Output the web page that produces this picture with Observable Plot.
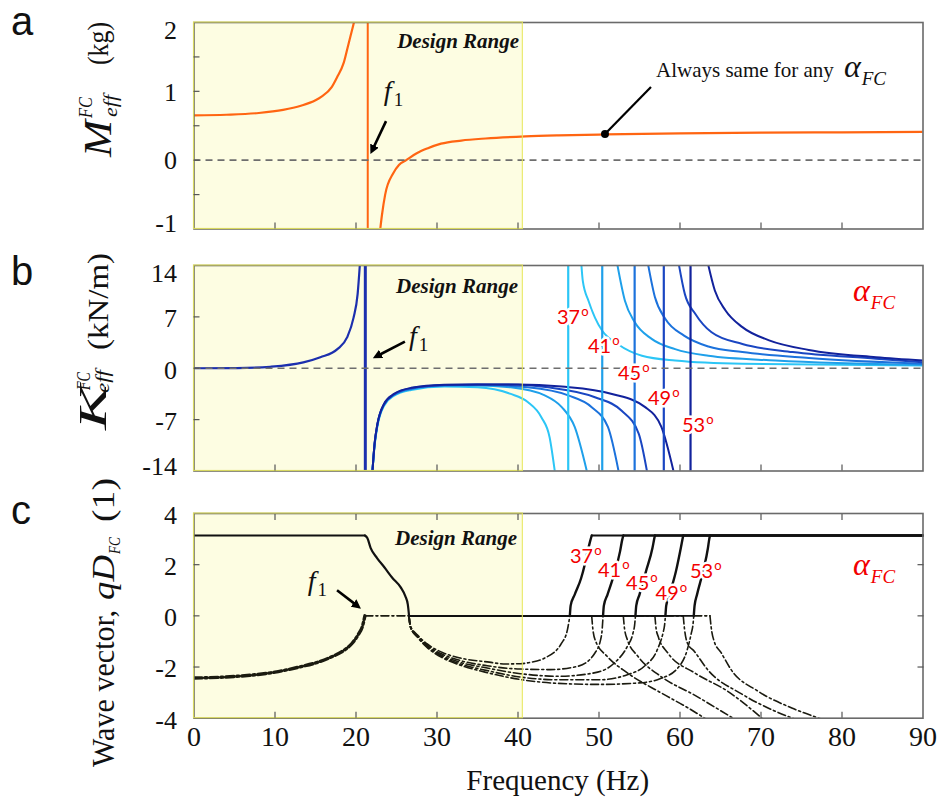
<!DOCTYPE html>
<html><head><meta charset="utf-8">
<script src="https://cdn.jsdelivr.net/npm/d3@7"></script>
<script src="https://cdn.jsdelivr.net/npm/@observablehq/plot@0.6"></script>
<style>
body{margin:0;background:#fff;}
#wrap{position:relative;width:944px;height:803px;overflow:hidden;background:#fff;}
</style></head><body><div id="wrap"></div>
<script>
// ---------- shared ----------
const freqTicks = [0,10,20,30,40,50,60,70,80,90];
const innerFreqTicks = [10,20,30,40,50,60,70,80];
const designRange = [0, 40.6];
const anglesDeg = [37,41,45,49,53];
const angleColors = ["#2cc6f6","#1fa0ea","#1c72dc","#1a46c2","#12229c"];

// ---------- panel a : effective mass (kg) ----------
const massTickLabels = [2,1,0,-1];
const massTicks = [1.5,1,0.5,0,-0.5];
const massF1 = 21.45;
const massBelow = [[0,0.65],[4,0.66],[8,0.685],[11,0.73],[13.2,0.79],[15,0.87],[15.7,0.92],[17,1.06],[17.65,1.2],[18.5,1.42],[19.1,1.7],[19.6,1.93],[19.95,2.1]];
const massAbove = [[22.9,-1.1],[23.2,-0.8],[23.6,-0.5],[24.6,-0.19],[25.3,-0.07],[26.2,0],[27.5,0.1],[28.8,0.17],[30.5,0.24],[33,0.285],[36,0.315],[40.9,0.345],[45,0.36],[50.8,0.374],[60,0.39],[70,0.4],[80,0.405],[90,0.41]];
const massMarker = [50.8, 0.374];

// ---------- panel b : effective stiffness (kN/m) ----------
const stiffTickLabels = [14,7,0,-7,-14];
const stiffTicks = [7,0,-7];
const stiffF1 = 21.15;
const stiffLow = [[0,0],[5.3,0.02],[9.4,0.2],[13.5,0.8],[15.6,1.5],[17.7,2.6],[18.9,4.2],[19.7,6.9],[20.2,10.1],[20.5,14.5]];
const stiffNeg37 = [[22.0,-14.5],[22.3,-10.5],[22.64,-7.9],[23.46,-5.1],[24.7,-3.75],[26.8,-2.95],[30.9,-2.5],[35,-2.6],[39.1,-3.5],[41.2,-4.6],[42.9,-6.7],[43.9,-9.4],[44.6,-14.5]];
const stiffNeg41 = [[22.0,-14.5],[22.3,-10.4],[22.64,-7.8],[23.46,-5.0],[24.7,-3.65],[26.8,-2.85],[30.9,-2.4],[35,-2.35],[39.1,-2.6],[43.3,-3.7],[45.4,-5.3],[47.0,-8.0],[48.6,-14.5]];
const stiffNeg45 = [[22.0,-14.5],[22.3,-10.3],[22.64,-7.7],[23.46,-4.95],[24.7,-3.6],[26.8,-2.78],[30.9,-2.33],[35,-2.25],[41.2,-2.6],[46.2,-3.7],[49.1,-5.3],[51.1,-8.0],[52.5,-14.5]];
const stiffNeg49 = [[22.0,-14.5],[22.3,-10.2],[22.64,-7.65],[23.46,-4.9],[24.7,-3.55],[26.8,-2.72],[30.9,-2.28],[35,-2.2],[38.5,-2.22],[43.7,-2.6],[49.5,-3.95],[52.8,-5.8],[54.9,-8.9],[56.0,-14.5]];
const stiffNeg53 = [[22.0,-14.5],[22.3,-10.2],[22.64,-7.6],[23.46,-4.85],[24.7,-3.5],[26.8,-2.67],[30.9,-2.26],[35,-2.2],[40,-2.2],[45.4,-2.5],[51.6,-3.5],[55.7,-5.3],[57.7,-8.0],[59.3,-14.5]];
const stiffPos37 = [[47.8,14.5],[48.0,11.9],[48.7,9.2],[49.5,6.9],[50.4,5.1],[52.3,3.3],[55.3,1.7],[59.4,1.05],[67.7,0.6],[90,0.37]];
const stiffPos41 = [[52.2,14.5],[53.2,9.2],[54.4,6.3],[56.5,4.0],[59.4,2.6],[63.5,1.7],[71.8,1.05],[90,0.46]];
const stiffPos45 = [[56.0,14.5],[56.9,9.7],[58.2,6.7],[60.5,4.45],[63.5,2.96],[67.7,2.2],[75.9,1.4],[90,0.6]];
const stiffPos49 = [[59.8,14.5],[60.6,10.1],[61.9,7.4],[63.9,4.9],[67.7,3.3],[73.9,2.2],[84.2,1.3],[90,0.8]];
const stiffPos53 = [[63.4,14.5],[64.3,10.6],[65.6,7.9],[67.7,5.6],[71.0,3.8],[75.9,2.5],[84.2,1.5],[90,1.05]];
const stiffPoles = [46.2,50.4,54.4,58.0,61.3];

// ---------- panel c : wave vector qD (1) ----------
const waveTickLabels = [4,2,0,-2,-4];
const waveTicks = [2,0,-2];
const wavePi = 3.14;
const waveF1 = 21.1;
const waveCutOn = 26.55;
const waveReDrop = [[21.1,3.14],[21.4,3.04],[21.8,2.66],[22.6,2.26],[23.5,1.9],[24.5,1.48],[25.5,1.12],[26.1,0.76],[26.4,0.44],[26.55,0]];
const waveImLow = [[0,-2.43],[5,-2.37],[10,-2.2],[13,-2.0],[15.6,-1.78],[17,-1.6],[18.5,-1.35],[19.5,-1.08],[20.3,-0.72],[20.8,-0.4],[21.1,0]];
const waveBandStart = [46.4,50.5,54.5,58.2,61.7];
const waveBandEnd = [49.1,53.0,56.9,60.4,63.7];
const waveRePass37 = [[46.4,0],[46.5,0.4],[47.0,0.83],[47.8,1.48],[48.2,1.95],[48.5,2.39],[48.9,2.91],[49.1,3.14]];
const waveRePass41 = [[50.5,0],[50.6,0.4],[51.05,0.83],[51.85,1.61],[52.6,2.52],[52.85,2.95],[53.0,3.14]];
const waveRePass45 = [[54.5,0],[54.6,0.4],[55.0,0.83],[55.8,1.74],[56.6,2.65],[56.8,2.98],[56.9,3.14]];
const waveRePass49 = [[58.2,0],[58.3,0.4],[58.7,0.83],[59.5,1.74],[60.1,2.65],[60.3,2.98],[60.4,3.14]];
const waveRePass53 = [[61.7,0],[61.8,0.4],[62.1,0.83],[62.85,1.74],[63.45,2.65],[63.6,2.98],[63.7,3.14]];
const waveImStop37 = [[26.55,0],[26.7,-0.38],[27.6,-0.75],[28.8,-1.1],[30.8,-1.45],[32.9,-1.65],[36.2,-1.8],[38.5,-1.88],[40.3,-1.87],[41.5,-1.82],[43.3,-1.65],[45.4,-1.06],[46.1,-0.55],[46.4,0]];
const waveImStop41 = [[26.55,0],[26.7,-0.4],[27.6,-0.78],[28.8,-1.15],[30.8,-1.52],[32.9,-1.75],[36.2,-1.95],[40.3,-2.08],[44,-2.1],[47.4,-1.97],[49.5,-1.45],[50.2,-0.93],[50.4,-0.5],[50.5,0]];
const waveImStop45 = [[26.55,0],[26.7,-0.41],[27.6,-0.8],[28.8,-1.18],[30.8,-1.58],[32.9,-1.82],[36.2,-2.04],[40.3,-2.26],[45,-2.36],[49.4,-2.23],[51.9,-1.84],[53.5,-1.19],[54.2,-0.67],[54.4,-0.35],[54.5,0]];
const waveImStop49 = [[26.55,0],[26.7,-0.42],[27.6,-0.82],[28.8,-1.21],[30.8,-1.62],[32.9,-1.88],[36.2,-2.14],[40.3,-2.39],[45,-2.5],[50,-2.5],[53.5,-2.3],[55.6,-1.97],[57.2,-1.32],[57.9,-0.67],[58.1,-0.35],[58.2,0]];
const waveImStop53 = [[26.55,0],[26.7,-0.43],[27.6,-0.84],[28.8,-1.24],[30.8,-1.66],[32.9,-1.93],[36.2,-2.22],[40.3,-2.49],[45,-2.64],[50,-2.68],[55,-2.62],[57.6,-2.45],[59.7,-2.05],[60.9,-1.32],[61.4,-0.67],[61.6,-0.35],[61.7,0]];
const waveImHigh37 = [[49.1,0],[49.25,-0.54],[49.6,-1.0],[51.0,-1.58],[53.5,-2.23],[57.6,-3.0],[61.0,-3.6],[63.3,-4.05]];
const waveImHigh41 = [[53.0,0],[53.15,-0.5],[53.5,-0.93],[54.8,-1.58],[57.6,-2.36],[61.8,-3.1],[66.8,-4.05]];
const waveImHigh45 = [[56.9,0],[57.05,-0.5],[57.3,-0.8],[58.5,-1.45],[61.8,-2.23],[65.9,-2.95],[70.3,-4.05]];
const waveImHigh49 = [[60.4,0],[60.55,-0.5],[60.9,-1.05],[61.8,-1.4],[63.4,-2.1],[67.6,-3.05],[71.7,-3.72],[74.3,-4.05]];
const waveImHigh53 = [[63.7,0],[63.85,-0.45],[64.2,-0.98],[65.1,-1.45],[66.3,-2.1],[69.6,-2.94],[73.8,-3.6],[77.6,-4.05]];

// ---------- annotation anchors (data coordinates) ----------
const annDesignA = [40.2, 1.62], annDesignB = [40.06, 10.19], annDesignC = [39.94, 2.745];
const annF1A = [23.5, 0.87], annF1ArrowA = [[23.77,0.56],[22.04,0.13]];
const annF1B = [26.6, 3.1], annF1ArrowB = [[26.1,3.56],[22.55,1.53]];
const annF1C = [14.1, 0.98], annF1ArrowC = [[17.72,0.98],[20.31,0.35]];
const annAlwaysLine = [56.48, 1.056], annAlwaysText = [57.1, 1.2];
const annAlphaB = [81.42, 9.1], annAlphaC = [81.42, 1.57];
const annAnglesB = [[44.88,6.0],[48.7,2.01],[52.41,-1.67],[56.11,-5.08],[60.31,-8.76]];
const annAnglesC = [[46.48,2.04],[49.94,1.5],[53.4,0.98],[57.05,0.6],[61.3,1.45]];

// ---------- helpers ----------
const serif = "Liberation Serif, Times New Roman, DejaVu Serif, serif";
const sans = "Liberation Sans, Arial, DejaVu Sans, sans-serif";
const orange = "#ff6512";
const yellowFill = "#fdfde2";
const yellowEdge = "#e6e65a";
const frameColor = "#6a6a6a";
const tickColor = "#555";
const rowsOf = lists => lists.flatMap((pts, i) => pts.map(([f, v]) => ({a: anglesDeg[i], f, v})));
const xy = {x: d => d[0], y: d => d[1]};

function backMarks(yDom) {
  return [Plot.rect([designRange], {x1: d => d[0], x2: d => d[1], y1: () => yDom[0], y2: () => yDom[1], fill: yellowFill})];
}
function frontMarks(yDom) {
  return [
    Plot.frame({stroke: frameColor, strokeWidth: 1.6}),
    Plot.rect([designRange], {x1: d => d[0], x2: d => d[1], y1: () => yDom[0], y2: () => yDom[1], fill: "none", stroke: yellowEdge, strokeWidth: 1.2, strokeOpacity: 0.85})
  ];
}
function yLabels(vals, dy) {
  return Plot.axisY(vals, {anchor: "left", tickSize: 0, tickPadding: 17, fontSize: 26, fontFamily: serif, dy, tickFormat: d => String(d), label: null});
}
function tickAxisY(vals, anchor) {
  return Plot.axisY(vals, {anchor, tickSize: 6, dx: anchor === "left" ? 6 : -6, fill: "none", stroke: tickColor, strokeWidth: 1.2, tickFormat: () => "", label: null});
}
function tickAxisX(vals, anchor) {
  return Plot.axisX(vals, {anchor, tickSize: 6, dy: anchor === "bottom" ? -6 : 6, fill: "none", stroke: tickColor, strokeWidth: 1.2, tickFormat: () => "", label: null});
}
const common = {width: 944, marginLeft: 193.5, marginRight: 21.5, x: {domain: [0, 90]},
  style: {fontFamily: serif, fontSize: "26px", color: "#111", background: "white", overflow: "visible"}};

// ---------- panel a ----------
const domA = [-1, 2];
const plotA = Plot.plot({...common, height: 240, marginTop: 22, marginBottom: 11.5, y: {domain: domA},
  marks: [
    ...backMarks(domA),
    Plot.ruleX([massF1], {stroke: orange, strokeWidth: 2}),
    Plot.line(massBelow, {...xy, stroke: orange, strokeWidth: 2.2, curve: "monotone-x", clip: true}),
    Plot.line(massAbove, {...xy, stroke: orange, strokeWidth: 2.2, curve: "monotone-x", clip: true}),
    Plot.ruleY([0], {stroke: "#6e6e6e", strokeWidth: 1.6, strokeDasharray: "7,5"}),
    ...frontMarks(domA),
    yLabels([1, 0], 1), yLabels([2], 8), yLabels([-1], -5),
    tickAxisY(massTicks, "left"),
    tickAxisX(innerFreqTicks, "bottom")
  ]});

// ---------- panel b ----------
const domB = [-14, 14];
const plotB = Plot.plot({...common, height: 250, marginTop: 25, marginBottom: 19.5, y: {domain: domB},
  color: {domain: anglesDeg, range: angleColors},
  marks: [
    ...backMarks(domB),
    Plot.line(rowsOf([stiffNeg37, stiffNeg41, stiffNeg45, stiffNeg49, stiffNeg53]), {x: "f", y: "v", z: "a", stroke: "a", strokeWidth: 2, curve: "monotone-x", clip: true}),
    Plot.line(rowsOf([stiffPos37, stiffPos41, stiffPos45, stiffPos49, stiffPos53]), {x: "f", y: "v", z: "a", stroke: "a", strokeWidth: 2, curve: "monotone-x", clip: true}),
    Plot.ruleX(stiffPoles.map((f, i) => ({f, a: anglesDeg[i]})), {x: "f", stroke: "a", strokeWidth: 2.2}),
    Plot.line(stiffLow, {...xy, stroke: "#1c2fae", strokeWidth: 2.2, curve: "monotone-x", clip: true}),
    Plot.ruleX([stiffF1], {stroke: "#1c2fae", strokeWidth: 3}),
    Plot.ruleY([0], {stroke: "#6e6e6e", strokeWidth: 1.6, strokeDasharray: "7,5"}),
    ...frontMarks(domB),
    yLabels([7, 0, -7], 2), yLabels([14], 8), yLabels([-14], -4),
    tickAxisY(stiffTicks, "left"),
    tickAxisX(innerFreqTicks, "bottom")
  ]});

// ---------- panel c ----------
const domC = [-4, 4];
const dashDot = "8,3,2,3";
const plotC = Plot.plot({...common, height: 313, marginTop: 23, marginBottom: 85.3, y: {domain: domC},
  marks: [
    ...backMarks(domC),
    Plot.line(waveImLow, {...xy, stroke: "#1b1b10", strokeWidth: 3.4, strokeDasharray: dashDot, curve: "monotone-x", clip: true}),
    Plot.line([[waveF1, 0], [waveCutOn, 0]], {...xy, stroke: "#1b1b10", strokeWidth: 1.6, strokeDasharray: dashDot}),
    Plot.line(rowsOf([waveImStop37, waveImStop41, waveImStop45, waveImStop49, waveImStop53]), {x: "f", y: "v", z: "a", stroke: "#1b1b10", strokeWidth: 1.6, strokeDasharray: dashDot, curve: "monotone-x", clip: true}),
    Plot.line(rowsOf(waveBandStart.map((s, i) => [[s, 0], [waveBandEnd[i], 0]])), {x: "f", y: "v", z: "a", stroke: "#1b1b10", strokeWidth: 1.6, strokeDasharray: dashDot}),
    Plot.line(rowsOf([waveImHigh37, waveImHigh41, waveImHigh45, waveImHigh49, waveImHigh53]), {x: "f", y: "v", z: "a", stroke: "#1b1b10", strokeWidth: 1.6, strokeDasharray: dashDot, curve: "monotone-x", clip: true}),
    Plot.line([[0, wavePi], [waveF1, wavePi]], {...xy, stroke: "#111", strokeWidth: 1.8}),
    Plot.line(waveReDrop, {...xy, stroke: "#111", strokeWidth: 2.2, curve: "monotone-x"}),
    Plot.line(rowsOf(waveBandStart.map(s => [[waveCutOn, 0], [s, 0]])), {x: "f", y: "v", z: "a", stroke: "#111", strokeWidth: 1.8}),
    Plot.line(rowsOf([waveRePass37, waveRePass41, waveRePass45, waveRePass49, waveRePass53]), {x: "f", y: "v", z: "a", stroke: "#111", strokeWidth: 2.4, curve: "monotone-x"}),
    Plot.line(rowsOf(waveBandEnd.map(e => [[e, wavePi], [90, wavePi]])), {x: "f", y: "v", z: "a", stroke: "#111", strokeWidth: 1.8}),
    ...frontMarks(domC),
    yLabels(waveTickLabels, 2),
    tickAxisY(waveTicks, "left"), tickAxisY(waveTicks, "right"),
    tickAxisX(innerFreqTicks, "bottom"), tickAxisX(innerFreqTicks, "top"),
    Plot.axisX(freqTicks, {anchor: "bottom", tickSize: 0, tickPadding: 8, fontSize: 28, fontFamily: serif, tickFormat: d => String(d), label: null})
  ]});

// ---------- place ----------
const wrap = document.getElementById("wrap");
[[plotA, 0], [plotB, 240], [plotC, 490]].forEach(([svg, top]) => {
  svg.style.position = "absolute"; svg.style.left = "0px"; svg.style.top = top + "px";
  wrap.appendChild(svg);
});

// ---------- overlay text ----------
const ov = d3.select(wrap).append("svg").attr("width", 944).attr("height", 803)
  .style("position", "absolute").style("left", "0px").style("top", "0px").style("pointer-events", "none");
ov.append("defs").append("marker").attr("id", "ah").attr("viewBox", "0 0 10 10").attr("refX", 6).attr("refY", 5)
  .attr("markerWidth", 3.6).attr("markerHeight", 3.6).attr("orient", "auto")
  .append("path").attr("d", "M0,0L10,5L0,10z").attr("fill", "#000");

const P = (plot, top, p) => [plot.scale("x").apply(p[0]), top + plot.scale("y").apply(p[1])];

function design(plot, top, p) {
  const [x, y] = P(plot, top, p);
  ov.append("text").attr("x", x).attr("y", y).attr("text-anchor", "end").style("font-family", serif)
    .attr("font-weight", "bold").attr("font-style", "italic").attr("font-size", 21).attr("fill", "#111").text("Design Range");
}
function f1(plot, top, p, arrow) {
  const [x, y] = P(plot, top, p);
  const t = ov.append("text").attr("x", x).attr("y", y).style("font-family", serif).attr("font-size", 28).attr("fill", "#111");
  t.append("tspan").attr("font-style", "italic").text("f");
  t.append("tspan").attr("font-size", 19).attr("dy", 6).attr("dx", 2).text("1");
  const [x1, y1] = P(plot, top, arrow[0]), [x2, y2] = P(plot, top, arrow[1]);
  ov.append("line").attr("x1", x1).attr("y1", y1).attr("x2", x2).attr("y2", y2)
    .attr("stroke", "#000").attr("stroke-width", 2.6).attr("marker-end", "url(#ah)");
}
function alpha(plot, top, p, color) {
  const [x, y] = P(plot, top, p);
  const t = ov.append("text").attr("x", x).attr("y", y).style("font-family", serif).attr("fill", color).attr("font-style", "italic");
  t.append("tspan").attr("font-size", 32).text("α");
  t.append("tspan").attr("font-size", 19).attr("dy", 8).attr("dx", 1).text("FC");
}
function angles(plot, top, list) {
  list.forEach((p, i) => {
    const [x, y] = P(plot, top, p);
    const t = ov.append("text").attr("x", x).attr("y", y).style("font-family", "Lato, Liberation Sans, sans-serif")
      .attr("font-size", 20).attr("fill", "#f20000").attr("stroke", "#fff").attr("stroke-width", 5)
      .attr("paint-order", "stroke").attr("stroke-linejoin", "round");
    t.append("tspan").text(String(anglesDeg[i]));
    t.append("tspan").attr("font-size", 13).attr("dy", -8).attr("dx", 1).text("o");
  });
}

design(plotA, 0, annDesignA); design(plotB, 240, annDesignB); design(plotC, 490, annDesignC);
f1(plotA, 0, annF1A, annF1ArrowA); f1(plotB, 240, annF1B, annF1ArrowB); f1(plotC, 490, annF1C, annF1ArrowC);
alpha(plotB, 240, annAlphaB, "#f20000"); alpha(plotC, 490, annAlphaC, "#f20000");
angles(plotB, 240, annAnglesB); angles(plotC, 490, annAnglesC);

// "Always same" annotation
{
  const [dx0, dy0] = P(plotA, 0, massMarker), [lx, ly] = P(plotA, 0, annAlwaysLine), [tx, ty] = P(plotA, 0, annAlwaysText);
  ov.append("line").attr("x1", dx0).attr("y1", dy0).attr("x2", lx).attr("y2", ly).attr("stroke", "#000").attr("stroke-width", 2.2);
  ov.append("circle").attr("cx", dx0).attr("cy", dy0).attr("r", 4).attr("fill", "#000");
  const t = ov.append("text").attr("x", tx).attr("y", ty).style("font-family", serif).attr("fill", "#111");
  t.append("tspan").attr("font-size", 21).text("Always same for any");
  t.append("tspan").attr("font-size", 32).attr("font-style", "italic").attr("dx", 10).text("α");
  t.append("tspan").attr("font-size", 19).attr("font-style", "italic").attr("dy", 8).attr("dx", 1).text("FC");
}

// panel letters
[["a", 35], ["b", 285], ["c", 524]].forEach(([s, y]) => {
  ov.append("text").attr("x", 11).attr("y", y).style("font-family", sans).attr("font-size", 40).attr("fill", "#111").text(s);
});

// rotated y titles
function piece(g, txt, u, v, size, len, italic) {
  g.append("text").attr("x", u).attr("y", v).style("font-family", serif).attr("font-size", size)
    .attr("font-style", italic ? "italic" : "normal").attr("fill", "#111")
    .attr("textLength", len).attr("lengthAdjust", "spacingAndGlyphs").text(txt);
}
{
  const g = ov.append("g").attr("transform", "translate(111,157) rotate(-90)");
  piece(g, "M", 0, 0, 40, 37, true);
  piece(g, "FC", 39, -19, 18, 21, true);
  piece(g, "eff", 40, 6, 18, 22, true);
  piece(g, "(kg)", 92, -3, 30, 43, false);
}
{
  const g = ov.append("g").attr("transform", "translate(106,430) rotate(-90)");
  piece(g, "K", 0, 0, 40, 45, true);
  piece(g, "FC", 40, -16, 18, 18, true);
  piece(g, "eff", 37, 3, 18, 23, true);
  piece(g, "(kN/m)", 80, 2, 30, 97, false);
}
{
  const g = ov.append("g").attr("transform", "translate(114,767) rotate(-90)");
  piece(g, "Wave vector,", 0, 0, 32, 157, false);
  piece(g, "qD", 167, 0, 32, 45, true);
  piece(g, "FC", 213, 6, 17, 17, true);
  piece(g, "(1)", 245, 0, 32, 44, false);
}
ov.append("text").attr("x", 557.75).attr("y", 790).attr("text-anchor", "middle").style("font-family", serif)
  .attr("font-size", 29).attr("fill", "#111").text("Frequency (Hz)");
</script></body></html>
